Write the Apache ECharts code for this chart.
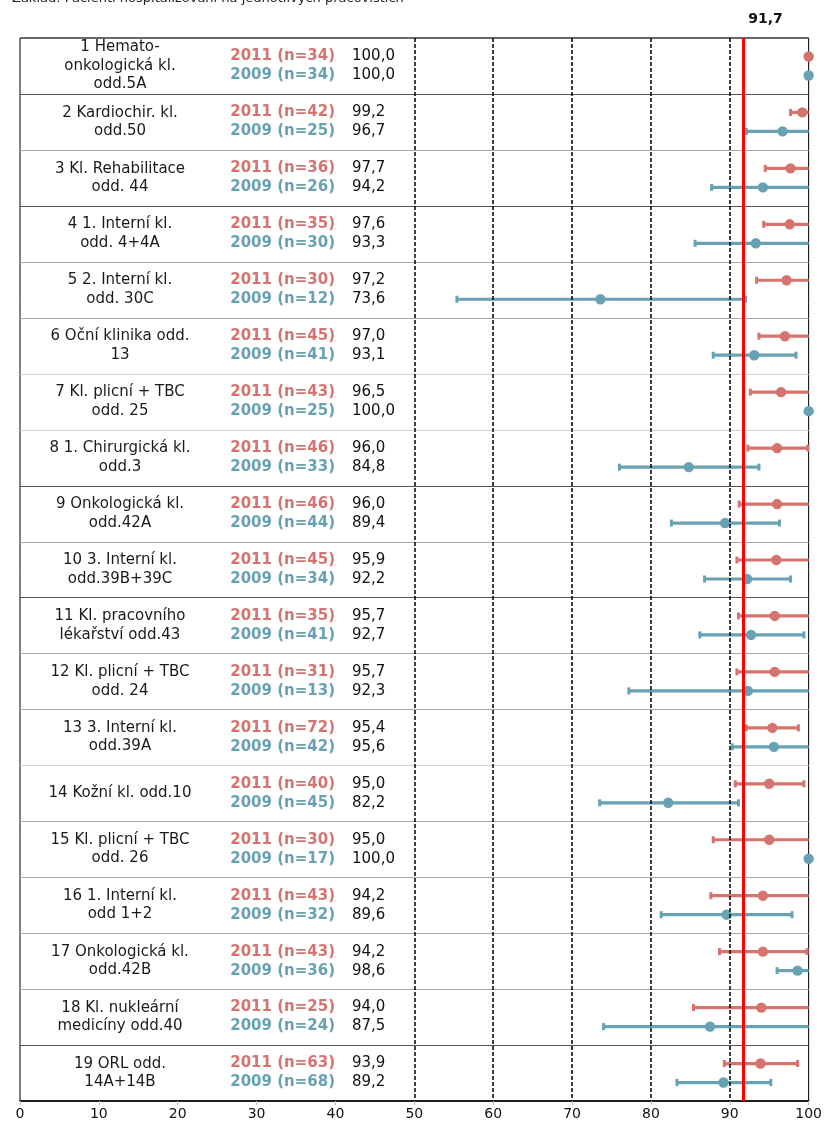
<!DOCTYPE html>
<html>
<head>
<meta charset="utf-8">
<script src="https://cdn.jsdelivr.net/npm/echarts@6/dist/echarts.min.js"></script>
<style>
  html, body { margin: 0; padding: 0; background: #fff; }
  #chart { width: 825px; height: 1128px; }
</style>
</head>
<body>
<div id="chart"></div>
<script>
// Spokojenost pacientů podle pracoviště: podíl (%) s 95% intervaly, 2011 vs. 2009
const subtitle = 'Základ: Pacienti hospitalizovaní na jednotlivých pracovištích';

const departments = [
  '1 Hemato-\nonkologická kl.\nodd.5A',
  '2 Kardiochir. kl.\nodd.50',
  '3 Kl. Rehabilitace\nodd. 44',
  '4 1. Interní kl.\nodd. 4+4A',
  '5 2. Interní kl.\nodd. 30C',
  '6 Oční klinika odd.\n13',
  '7 Kl. plicní + TBC\nodd. 25',
  '8 1. Chirurgická kl.\nodd.3',
  '9 Onkologická kl.\nodd.42A',
  '10 3. Interní kl.\nodd.39B+39C',
  '11 Kl. pracovního\nlékařství odd.43',
  '12 Kl. plicní + TBC\nodd. 24',
  '13 3. Interní kl.\nodd.39A',
  '14 Kožní kl. odd.10',
  '15 Kl. plicní + TBC\nodd. 26',
  '16 1. Interní kl.\nodd 1+2',
  '17 Onkologická kl.\nodd.42B',
  '18 Kl. nukleární\nmedicíny odd.40',
  '19 ORL odd.\n14A+14B'
];

const year2011 = '2011';
const year2009 = '2009';

const n2011 = [34, 42, 36, 35, 30, 45, 43, 46, 46, 45, 35, 31, 72, 40, 30, 43, 43, 25, 63];
const n2009 = [34, 25, 26, 30, 12, 41, 25, 33, 44, 34, 41, 13, 42, 45, 17, 32, 36, 24, 68];

const value2011 = [100.0, 99.2, 97.7, 97.6, 97.2, 97.0, 96.5, 96.0, 96.0, 95.9, 95.7, 95.7, 95.4, 95.0, 95.0, 94.2, 94.2, 94.0, 93.9];
const low2011   = [100.0, 97.7, 94.5, 94.3, 93.4, 93.7, 92.6, 92.3, 91.2, 90.9, 91.1, 90.9, 92.1, 90.7, 87.9, 87.6, 88.7, 85.4, 89.3];
// upper limits that run past the axis end are stored as 100
const high2011  = [100.0, 100.0, 100.0, 100.0, 100.0, 100.0, 100.0, 99.9, 100.0, 100.0, 100.0, 100.0, 98.7, 99.4, 100.0, 100.0, 99.8, 100.0, 98.6];

const value2009 = [100.0, 96.7, 94.2, 93.3, 73.6, 93.1, 100.0, 84.8, 89.4, 92.2, 92.7, 92.3, 95.6, 82.2, 100.0, 89.6, 98.6, 87.5, 89.2];
const low2009   = [100.0, 92.1, 87.7, 85.6, 55.4, 87.9, 100.0, 76.0, 82.6, 86.8, 86.2, 77.2, 90.3, 73.5, 100.0, 81.3, 96.0, 74.0, 83.3];
const high2009  = [100.0, 100.0, 100.0, 100.0, 92.0, 98.4, 100.0, 93.7, 96.3, 97.7, 99.4, 100.0, 100.0, 91.1, 100.0, 97.9, 100.0, 100.0, 95.2];

const benchmark = 91.7;
const referenceLines = [50, 60, 70, 80, 90];

// ---- styling ----
const FONT = '"DejaVu Sans", Verdana, sans-serif';
const RED = '#d5736e';
const TEAL = '#67a2b2';
const ROW_SHIFT = 9.5;           // vertical offset of each year's line within a row
const SEPARATOR = ['#555', '#a8a8a8', '#555', '#a8a8a8', '#a8a8a8', '#d0d0d0', '#d0d0d0', '#555', '#a8a8a8',
                   '#555', '#a8a8a8', '#a8a8a8', '#d0d0d0', '#a8a8a8', '#a8a8a8', '#a8a8a8', '#a8a8a8', '#555'];

const fmt = v => v.toFixed(1).replace('.', ',');

function intervalSeries(name, values, lows, highs, color, shift) {
  return {
    name,
    type: 'custom',
    z: 3,
    data: values.map((v, i) => [lows[i], v, highs[i], i]),
    encode: { x: [0, 1, 2], y: 3 },
    renderItem(params, api) {
      const row = api.value(3);
      const lo = api.value(0), mid = api.value(1), hi = api.value(2);
      const pLo = api.coord([lo, row]);
      const pMid = api.coord([mid, row]);
      const pHi = api.coord([hi, row]);
      const y = pMid[1] + shift;
      const children = [];
      if (pHi[0] - pLo[0] > 0.5) {
        children.push({
          type: 'line',
          shape: { x1: pLo[0], y1: y, x2: pHi[0], y2: y },
          style: { stroke: color, lineWidth: 3.2 }
        });
        if (lo < 100) {
          children.push({ type: 'rect', shape: { x: pLo[0] - 1.5, y: y - 3.5, width: 3, height: 7 }, style: { fill: color } });
        }
        if (hi < 100) {
          children.push({ type: 'rect', shape: { x: pHi[0] - 1.5, y: y - 3.5, width: 3, height: 7 }, style: { fill: color } });
        }
      }
      children.push({
        type: 'circle',
        shape: { cx: pMid[0], cy: y, r: 5.2 },
        style: { fill: color }
      });
      return { type: 'group', children };
    }
  };
}

const chart = echarts.init(document.getElementById('chart'), null, { renderer: 'canvas' });

chart.setOption({
  animation: false,
  backgroundColor: '#fff',
  graphic: [{
    type: 'text',
    left: 12,
    top: -8,
    style: { text: subtitle, font: '13px ' + FONT, fill: '#222' }
  }],
  grid: {
    left: 20, right: 14, top: 38, bottom: 27,
    show: true, borderColor: '#000', borderWidth: 1, backgroundColor: 'transparent'
  },
  xAxis: {
    type: 'value',
    min: 0, max: 100, interval: 10,
    axisLine: { show: true, lineStyle: { color: '#000', width: 1.5 } },
    axisTick: { show: true, length: 4, lineStyle: { color: '#bbb' } },
    splitLine: { show: false },
    axisLabel: { fontFamily: FONT, fontSize: 14, color: '#111', margin: 6 }
  },
  yAxis: {
    type: 'category',
    data: departments,
    inverse: true,
    show: false,
    boundaryGap: true
  },
  series: [
    {
      name: 'rows',
      type: 'custom',
      z: 1,
      data: departments.map((d, i) => [0, i]),
      encode: { x: 0, y: 1 },
      renderItem(params, api) {
        const i = api.value(1);
        const c = api.coord([0, i]);
        const right = api.coord([100, i])[0];
        const band = api.size([0, 1])[1];
        const x0 = c[0], cy = c[1];
        const children = [
          {
            type: 'text',
            style: {
              text: departments[i], x: x0 + 100, y: cy,
              align: 'center', verticalAlign: 'middle', lineHeight: 18.5,
              font: '15px ' + FONT, fill: '#1a1a1a'
            }
          },
          {
            type: 'text',
            style: {
              text: year2011 + ' (n=' + n2011[i] + ')', x: x0 + 315, y: cy - ROW_SHIFT,
              align: 'right', verticalAlign: 'middle', font: 'bold 15px ' + FONT, fill: RED
            }
          },
          {
            type: 'text',
            style: {
              text: year2009 + ' (n=' + n2009[i] + ')', x: x0 + 315, y: cy + ROW_SHIFT,
              align: 'right', verticalAlign: 'middle', font: 'bold 15px ' + FONT, fill: TEAL
            }
          },
          {
            type: 'text',
            style: {
              text: fmt(value2011[i]), x: x0 + 332, y: cy - ROW_SHIFT,
              align: 'left', verticalAlign: 'middle', font: '15px ' + FONT, fill: '#111'
            }
          },
          {
            type: 'text',
            style: {
              text: fmt(value2009[i]), x: x0 + 332, y: cy + ROW_SHIFT,
              align: 'left', verticalAlign: 'middle', font: '15px ' + FONT, fill: '#111'
            }
          }
        ];
        if (i === 0) {
          children.push({
            type: 'line',
            shape: { x1: x0, y1: cy - band / 2, x2: right, y2: cy - band / 2 },
            style: { stroke: '#555', lineWidth: 1 }
          });
        }
        if (i < departments.length - 1) {
          const yb = Math.round(cy + band / 2) + 0.5;
          children.push({
            type: 'line',
            shape: { x1: x0, y1: yb, x2: right, y2: yb },
            style: { stroke: SEPARATOR[i], lineWidth: 1 }
          });
        }
        return { type: 'group', children };
      },
      markLine: {
        silent: true,
        symbol: ['none', 'none'],
        label: { show: false },
        data: referenceLines.map(v => ({
          xAxis: v,
          lineStyle: { type: [4, 2], color: '#000', width: 1.5 }
        }))
      }
    },
    intervalSeries(year2011, value2011, low2011, high2011, RED, -ROW_SHIFT),
    intervalSeries(year2009, value2009, low2009, high2009, TEAL, ROW_SHIFT),
    {
      name: 'benchmark',
      type: 'line',
      z: 5,
      data: [],
      markLine: {
        silent: true,
        symbol: ['none', 'none'],
        data: [{
          xAxis: benchmark,
          lineStyle: { type: 'solid', color: '#ff0000', width: 3 },
          label: {
            show: true,
            position: 'start',
            formatter: fmt(benchmark),
            fontFamily: FONT,
            fontWeight: 'bold',
            fontSize: 14,
            color: '#111',
            align: 'left',
            padding: [0, 0, 0, 5],
            distance: 12
          }
        }]
      }
    }
  ]
});
</script>
</body>
</html>
